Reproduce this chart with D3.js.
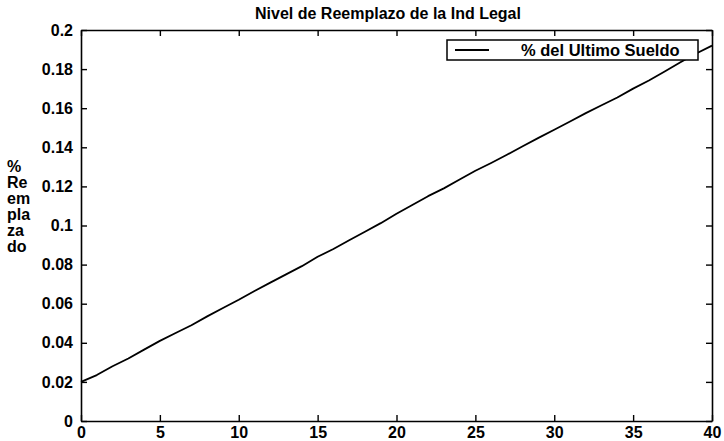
<!DOCTYPE html>
<html>
<head>
<meta charset="utf-8">
<script src="https://cdn.jsdelivr.net/npm/d3@7/dist/d3.min.js"></script>
<style>
  html, body { margin: 0; padding: 0; background: #fff; }
  svg { display: block; }
  text { font-family: "Liberation Sans", Arial, sans-serif; font-weight: bold; fill: #000; }
</style>
</head>
<body>
<svg id="chart" width="724" height="441"></svg>
<script>
// Years of service and replacement rate (% of last salary)
const years = [0,1,2,3,4,5,6,7,8,9,10,11,12,13,14,15,16,17,18,19,20,
               21,22,23,24,25,26,27,28,29,30,31,32,33,34,35,36,37,38,39,40];
const replacement = [0.0200,0.0235,0.0280,0.0320,0.0365,0.0410,0.0450,0.0490,0.0535,0.0578,
                     0.0620,0.0665,0.0708,0.0750,0.0792,0.0840,0.0880,0.0925,0.0968,0.1012,
                     0.1060,0.1105,0.1150,0.1190,0.1235,0.1280,0.1320,0.1362,0.1405,0.1448,
                     0.1490,0.1532,0.1575,0.1615,0.1655,0.1700,0.1742,0.1788,0.1835,0.1880,
                     0.1920];
const xTicks = [0,5,10,15,20,25,30,35,40];
const yTicks = [0,0.02,0.04,0.06,0.08,0.1,0.12,0.14,0.16,0.18,0.2];
const title = "Nivel de Reemplazo de la Ind Legal";
const yLabelLines = ["%", "Re", "em", "pla", "za", "do"];
const seriesName = "% del Ultimo Sueldo";

const svg = d3.select("#chart");
const m = { left: 81, right: 712, top: 30, bottom: 421 };

const x = d3.scaleLinear().domain([0, 40]).range([m.left, m.right]);
const y = d3.scaleLinear().domain([0, 0.2]).range([m.bottom, m.top]);

const fmt = d => String(+d.toFixed(2));
const tickLen = 6;
const fontSize = 16;

// Axes with inward ticks on all four sides
const axB = svg.append("g").attr("transform", `translate(0,${m.bottom})`)
  .call(d3.axisBottom(x).tickValues(xTicks).tickFormat(fmt).tickSizeInner(-tickLen).tickSizeOuter(0).tickPadding(6));
const axT = svg.append("g").attr("transform", `translate(0,${m.top})`)
  .call(d3.axisTop(x).tickValues(xTicks).tickFormat("").tickSizeInner(-tickLen).tickSizeOuter(0));
const axL = svg.append("g").attr("transform", `translate(${m.left},0)`)
  .call(d3.axisLeft(y).tickValues(yTicks).tickFormat(fmt).tickSizeInner(-tickLen).tickSizeOuter(0).tickPadding(8));
const axR = svg.append("g").attr("transform", `translate(${m.right},0)`)
  .call(d3.axisRight(y).tickValues(yTicks).tickFormat("").tickSizeInner(-tickLen).tickSizeOuter(0));

[axB, axT, axL, axR].forEach(g => {
  g.select(".domain").attr("stroke", "#000").attr("stroke-width", 1.6);
  g.selectAll(".tick line").attr("stroke", "#000").attr("stroke-width", 1.4);
  g.selectAll(".tick text").attr("font-size", fontSize)
    .attr("font-family", "'Liberation Sans', Arial, sans-serif").attr("font-weight", "bold");
});

// Data line
const line = d3.line().x((d, i) => x(years[i])).y(d => y(d));
svg.append("path")
  .datum(replacement)
  .attr("d", line)
  .attr("fill", "none")
  .attr("stroke", "#000")
  .attr("stroke-width", 1.8)
  .attr("stroke-linejoin", "round");

// Title
svg.append("text")
  .attr("x", 388)
  .attr("y", 19)
  .attr("text-anchor", "middle")
  .attr("font-size", 16)
  .text(title);

// Stacked y-axis label
svg.append("g").selectAll("text")
  .data(yLabelLines)
  .join("text")
  .attr("x", 7)
  .attr("y", (d, i) => 172 + i * 16)
  .attr("font-size", fontSize)
  .text(d => d);

// Legend
const lg = svg.append("g");
lg.append("rect")
  .attr("x", 447).attr("y", 40).attr("width", 251).attr("height", 20)
  .attr("fill", "#fff").attr("stroke", "#000").attr("stroke-width", 1.5);
lg.append("line")
  .attr("x1", 455).attr("x2", 489).attr("y1", 50).attr("y2", 50)
  .attr("stroke", "#000").attr("stroke-width", 1.8);
lg.append("text")
  .attr("x", 521).attr("y", 56)
  .attr("font-size", 16.5)
  .text(seriesName);
</script>
</body>
</html>
